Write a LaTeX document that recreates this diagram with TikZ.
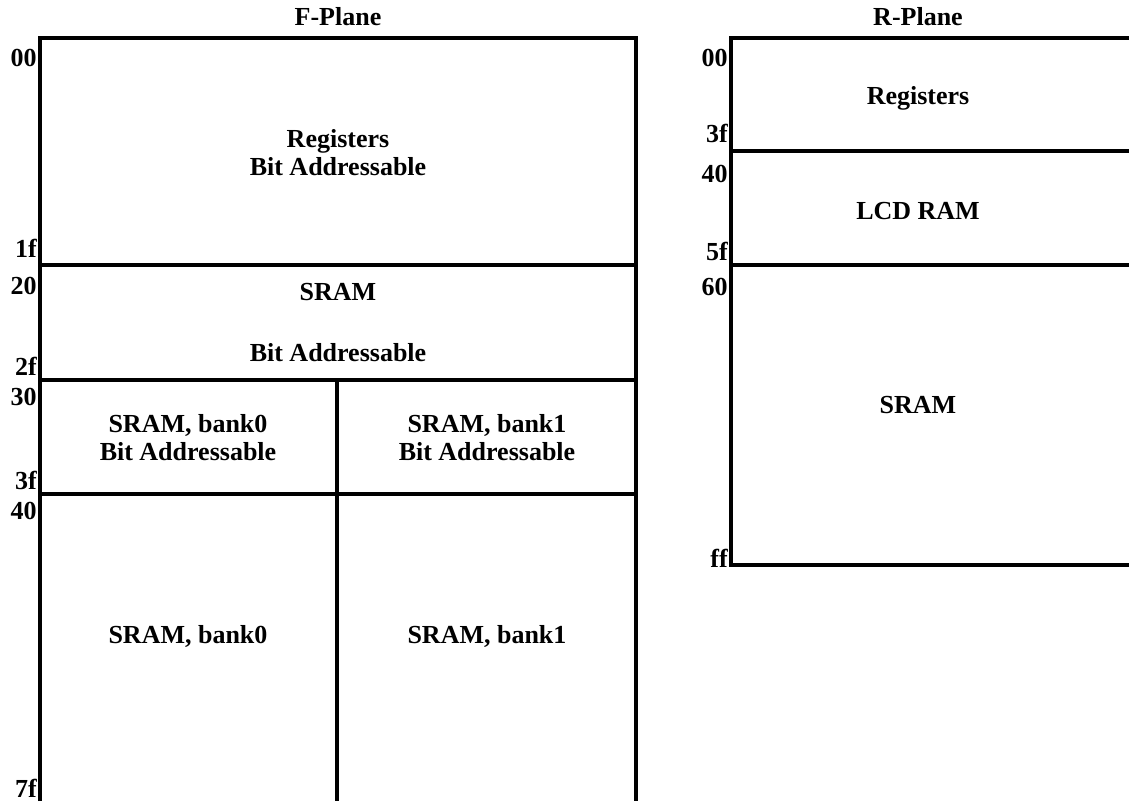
\documentclass[tikz,border=0pt]{standalone}
\usepackage{fontspec}
\setmainfont{Liberation Serif}
\newcommand{\memfont}{\fontsize{19.5}{20.5}\selectfont\bfseries}
\tikzset{
    wall/.style={line width=3pt, line join=miter},
    divider/.style={line width=2.6pt},
    addr/.style={anchor=base east, inner sep=0pt, font=\memfont},
    cell/.style={anchor=base, inner sep=0pt, align=center, font=\memfont},
}
\begin{document}
\begin{tikzpicture}[x=0.75pt,y=-0.75pt]
    \useasboundingbox (0,0) rectangle (1129,801);
    % F-Plane
    \node[cell] (ftitle) at (338,25) {F-Plane};
    \draw[wall] (40,801) -- (40,38) -- (636,38) -- (636,801);
    \foreach \y in {265,380,494}
        \draw[divider] (40,\y) -- (636,\y);
    \draw[divider] (337,380) -- (337,801);
    \foreach \y/\a in {66/00,257/1f,294/20,375/2f,405/30,489/3f,519/40,797/7f}
        \node[addr] (f\a) at (37,\y) {\a};
    \node[cell] (fregs) at (338,175) {Registers\\Bit Addressable};
    \node[cell] (fsram) at (338,300) {SRAM};
    \node[cell] (fbit) at (338,361) {Bit Addressable};
    \node[cell] (fbankA) at (188,460) {SRAM, bank0\\Bit Addressable};
    \node[cell] (fbankB) at (487,460) {SRAM, bank1\\Bit Addressable};
    \node[cell] (fsramA) at (188,643) {SRAM, bank0};
    \node[cell] (fsramB) at (487,643) {SRAM, bank1};
    % R-Plane
    \node[cell] (rtitle) at (918,25) {R-Plane};
    \draw[wall] (1129,565) -- (731,565) -- (731,38) -- (1129,38);
    \foreach \y in {151,265}
        \draw[divider] (731,\y) -- (1129,\y);
    \foreach \y/\a in {66/00,142/3f,182/40,260/5f,295/60,567/ff}
        \node[addr] (r\a) at (728,\y) {\a};
    \node[cell] (rregs) at (918,104) {Registers};
    \node[cell] (rlcd) at (918,219) {LCD RAM};
    \node[cell] (rsram) at (918,413) {SRAM};
\end{tikzpicture}
\end{document}
